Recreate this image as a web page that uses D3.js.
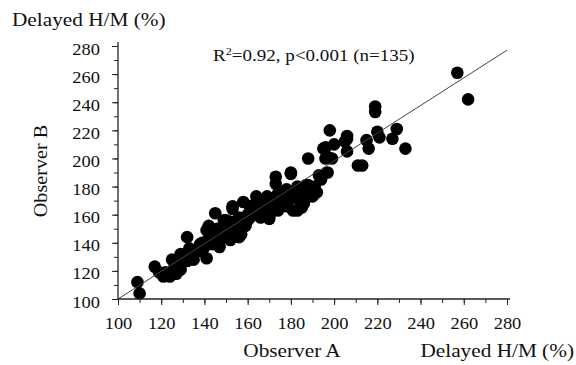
<!DOCTYPE html>
<html><head><meta charset="utf-8">
<script src="https://cdn.jsdelivr.net/npm/d3@7"></script>
<style>
html,body{margin:0;padding:0;background:#fff;}
svg text{font-family:"Liberation Serif","Times New Roman",serif;fill:#111;}
</style></head>
<body><svg id="c" width="576" height="365"></svg>
<script>
const xTicks = [100,120,140,160,180,200,220,240,260,280];
const yTicks = [100,120,140,160,180,200,220,240,260,280];
const obsA = [110,109,117,119,121,124,125,129,129,132,132,136,141,139,141,145,145,149,150,153,153,155,156,158,160,163,164,168,170,173,173,180,177,181,178,153,157,196,197,206,187,190,183,178,175,169,166,162,170,158,153,149,143,144,152,157,140,147,
257,262,219,219,198,206,205,195,196,188,206,211,213,215,216,220,221,227,229,233,193,180,188,
122,126,128,131,134,137,135,138,127,133,
142,145,146,148,150,151,154,155,159,147,144,152,156,160,142,
161,163,165,166,168,170,172,174,176,163,167,171,179,174,161,
182,184,185,186,189,191,183,194,197,187,192,199,185,200];
const obsB = [104,112,123,119,116,116,128,121,132,144,127,135,129,140,149,161,144,147,156,166,147,154,144,169,156,163,173,170,157,187,182,189,168,163,178,164,150,208,201,214,181,173,163,166,170,173,168,164,159,156,151,156,147,142,142,146,137,137,
261,242,237,233,220,216,212,207,200,200,205,195,195,213,207,219,215,214,221,207,188,190,181,
119,122,125,130,132,134,128,139,118,136,
143,146,150,143,145,149,148,152,152,141,139,155,158,160,152,
158,160,162,158,162,165,167,163,172,167,165,170,170,175,166,
176,170,175,168,178,180,180,185,190,172,176,200,165,210];
const fitLine = [[100,100],[280,277]];
const annotation = {pre:"R", sup:"2", post:"=0.92, p<0.001 (n=135)"};

const svg = d3.select("#c");
const x = d3.scaleLinear().domain([100,280]).range([118,507]);
const y = d3.scaleLinear().domain([100,280]).range([299,46]);
const SX = 1.12;
const font = "'Liberation Serif','Times New Roman',serif";

// points
const pts = obsA.map((a,i)=>[a,obsB[i]]);
svg.append("g").selectAll("circle").data(pts).join("circle")
  .attr("cx",d=>x(d[0])).attr("cy",d=>y(d[1])).attr("r",6.3).attr("fill","#000");

// fit line
svg.append("line").attr("x1",x(fitLine[0][0])).attr("y1",y(fitLine[0][1]))
  .attr("x2",x(fitLine[1][0])).attr("y2",y(fitLine[1][1]))
  .attr("stroke","#444").attr("stroke-width",1);

// axes
const minor = d3.range(100,281,10);
const gx = svg.append("g").attr("transform","translate(0,299)");
gx.call(d3.axisBottom(x).tickValues(minor).tickSize(4).tickFormat(""));
gx.call(g=>g.select(".domain").remove());
const gxM = svg.append("g").attr("transform","translate(0,299)");
gxM.call(d3.axisBottom(x).tickValues(xTicks).tickSize(6).tickFormat(d3.format("d")));
gxM.select(".domain").remove();
gxM.selectAll("text").attr("y",0).attr("dy",0)
  .attr("transform",function(d){return `translate(0,30) scale(${SX},1)`;})
  .style("font-size","16.5px").style("font-family",font).attr("fill","#111");
svg.append("line").attr("x1",118).attr("x2",510).attr("y1",299).attr("y2",299).attr("stroke","#222").attr("stroke-width",1.3);

const gy = svg.append("g").attr("transform","translate(118,0)");
gy.call(d3.axisLeft(y).tickValues(minor).tickSize(4).tickFormat(""));
gy.select(".domain").remove();
const gyM = svg.append("g").attr("transform","translate(118,0)");
gyM.call(d3.axisLeft(y).tickValues(yTicks).tickSize(6).tickFormat(d3.format("d")));
gyM.select(".domain").remove();
gyM.selectAll("text").attr("x",0).attr("dy",0).attr("y",0)
  .attr("transform",`translate(-18,8) scale(${SX},1)`)
  .attr("text-anchor","end")
  .style("font-size","16.5px").style("font-family",font).attr("fill","#111");
svg.append("line").attr("x1",118).attr("x2",118).attr("y1",42).attr("y2",299).attr("stroke","#222").attr("stroke-width",1.3);
svg.selectAll(".tick line").attr("stroke","#222").attr("stroke-width",1);

// labels
function label(txt,tx,ty,size,anchor){
  return svg.append("text").attr("transform",`translate(${tx},${ty}) scale(${SX},1)`)
    .attr("text-anchor",anchor).style("font-size",size+"px").text(txt);
}
label("Delayed H/M (%)",12,26,19,"start");
label("Observer A",292,357,19,"middle");
label("Delayed H/M (%)",574,357,19,"end");
svg.append("text").attr("transform",`translate(47,171) rotate(-90) scale(${SX},1)`)
  .attr("text-anchor","middle").style("font-size","18px").text("Observer B");

const ann = svg.append("text").attr("transform",`translate(213,61) scale(${SX},1)`)
  .style("font-size","17px");
ann.append("tspan").text(annotation.pre);
ann.append("tspan").attr("dy",-6).style("font-size","11px").text(annotation.sup);
ann.append("tspan").attr("dy",6).text(annotation.post);
</script></body></html>
